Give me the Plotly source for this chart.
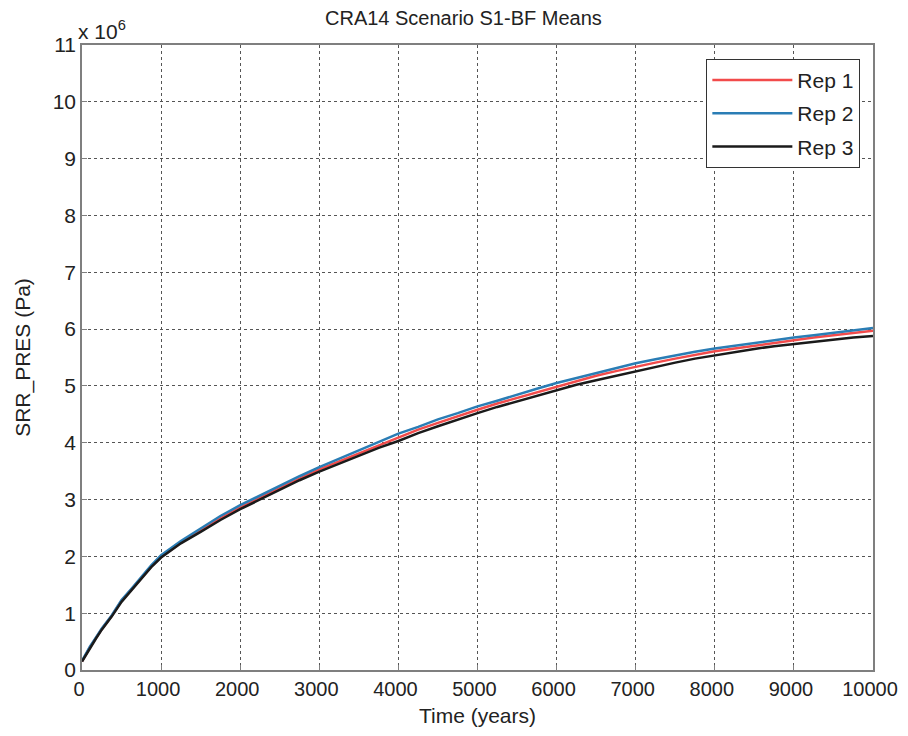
import plotly.graph_objects as go

# Time (years)
time_years = [0, 50, 100, 175, 250, 375, 500, 625, 750, 875, 1000,
              1250, 1500, 1750, 2000, 2250, 2500, 2750, 3000, 3250, 3500,
              3750, 4000, 4250, 4500, 4750, 5000, 5250, 5500, 5750, 6000,
              6250, 6500, 6750, 7000, 7250, 7500, 7750, 8000, 8250, 8500,
              8750, 9000, 9250, 9500, 9750, 10000]

# SRR_PRES means (x 10^6 Pa)
rep1 = [0.15, 0.28, 0.40, 0.56, 0.72, 0.95, 1.22, 1.42, 1.62, 1.82, 1.99,
        2.24, 2.45, 2.67, 2.86, 3.03, 3.21, 3.37, 3.53, 3.67, 3.82,
        3.96, 4.10, 4.23, 4.35, 4.47, 4.58, 4.69, 4.79, 4.89, 4.99,
        5.09, 5.18, 5.26, 5.34, 5.41, 5.48, 5.55, 5.61, 5.66, 5.71,
        5.76, 5.81, 5.85, 5.89, 5.93, 5.97]
rep2 = [0.16, 0.29, 0.41, 0.57, 0.73, 0.96, 1.23, 1.43, 1.64, 1.84, 2.02,
        2.27, 2.49, 2.71, 2.90, 3.07, 3.25, 3.41, 3.57, 3.72, 3.87,
        4.02, 4.16, 4.28, 4.41, 4.52, 4.64, 4.74, 4.85, 4.95, 5.05,
        5.14, 5.23, 5.32, 5.40, 5.47, 5.54, 5.60, 5.66, 5.71, 5.76,
        5.80, 5.85, 5.89, 5.93, 5.97, 6.02]
rep3 = [0.15, 0.27, 0.39, 0.55, 0.71, 0.94, 1.20, 1.41, 1.61, 1.81, 1.98,
        2.23, 2.43, 2.64, 2.83, 3.00, 3.17, 3.34, 3.49, 3.63, 3.78,
        3.91, 4.03, 4.17, 4.29, 4.41, 4.52, 4.63, 4.73, 4.83, 4.93,
        5.02, 5.10, 5.18, 5.25, 5.34, 5.41, 5.48, 5.54, 5.60, 5.65,
        5.70, 5.74, 5.78, 5.82, 5.85, 5.88]

series_names = ["Rep 1", "Rep 2", "Rep 3"]
series_colors = ["#f24b4b", "#2a7db5", "#1a1a1a"]

x_ticks = list(range(0, 10001, 1000))
x_tick_labels = [str(v) for v in x_ticks]
y_ticks = list(range(0, 12))
y_tick_labels = [str(v) for v in y_ticks]

fig = go.Figure()
for name, vals, col in zip(series_names, [rep1, rep2, rep3], series_colors):
    fig.add_trace(go.Scatter(x=time_years, y=vals, mode="lines", name=name,
                             legendgroup=name,
                             line=dict(color=col, width=2.5)))

font_family = "Liberation Sans, Arial, sans-serif"
txt_color = "#222222"
axis_common = dict(showline=True, mirror=True, linecolor="#7f7f7f", linewidth=1.5,
                   showgrid=True, gridcolor="#555555", griddash="dot", gridwidth=1,
                   zeroline=False, ticks="inside", ticklen=5, tickcolor="#7f7f7f",
                   automargin=False, ticklabeloverflow="allow")

fig.update_layout(
    width=900, height=720,
    paper_bgcolor="white", plot_bgcolor="white",
    margin=dict(l=74, r=35, t=37, b=58),
    title=dict(text="CRA14 Scenario S1-BF Means", x=0.506, xanchor="center",
               y=0.996, yanchor="top", automargin=False,
               font=dict(family=font_family, size=20, color=txt_color)),
    xaxis=dict(range=[0, 10000], tickvals=x_ticks, ticktext=x_tick_labels,
               ticklabelshift=-3,
               tickfont=dict(family=font_family, size=20, color=txt_color),
               title=dict(text="Time (years)", standoff=10,
                          font=dict(family=font_family, size=21, color=txt_color)),
               **axis_common),
    yaxis=dict(range=[0, 11], tickvals=y_ticks, ticktext=y_tick_labels,
               tickfont=dict(family=font_family, size=21, color=txt_color),
               title=dict(text="SRR_PRES (Pa)", standoff=16,
                          font=dict(family=font_family, size=21, color=txt_color)),
               **axis_common),
    legend=dict(x=0.984, y=0.978, xanchor="right", yanchor="top",
                bgcolor="white", bordercolor="#333333", borderwidth=1,
                font=dict(family=font_family, size=21, color=txt_color),
                itemwidth=80, tracegroupgap=3),
    showlegend=True,
)

fig.add_annotation(text="x 10<sup>6</sup>", xref="paper", yref="paper",
                   x=0.0, y=1.0, xanchor="left", yanchor="bottom", yshift=0, xshift=-6,
                   showarrow=False,
                   font=dict(family=font_family, size=21, color=txt_color))

fig.write_html("out.html")
